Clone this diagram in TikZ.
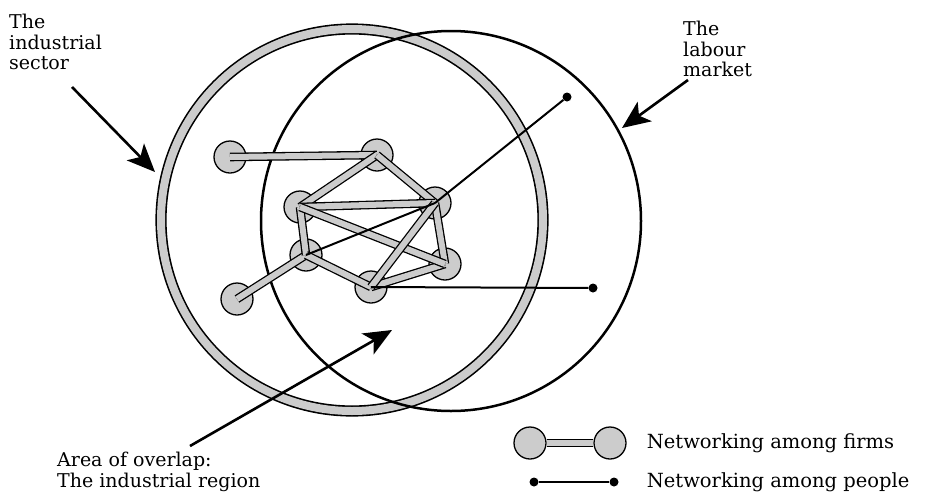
\documentclass[tikz,border=0pt]{standalone}
\usepackage{fontspec}
\setmainfont{DejaVu Serif}
\usetikzlibrary{arrows.meta,positioning}

\begin{document}
\begin{tikzpicture}[
    x=1pt, y=-1pt,
    firm/.style={draw, circle, line width=1.3pt, fill=gray!40, minimum size=32pt, inner sep=0pt},
    tie/.style={line width=1.3pt, double=gray!40, double distance=6pt},
    link/.style={line width=2pt},
    dot/.style={circle, fill=black, minimum size=9pt, inner sep=0pt},
    pointer/.style={-{Stealth[length=28pt, width=24pt, inset=7pt]}, line width=2.6pt},
    lbl/.style={font=\fontsize{19}{20.5}\selectfont, align=left, inner sep=0pt},
    legtext/.style={font=\fontsize{19.5}{21}\selectfont, inner sep=0pt},
  ]
    \useasboundingbox (0,0) rectangle (940,496);

    % Circles
    \draw[double=gray!40, double distance=8pt, line width=1.6pt] (352,220) circle[radius=191];
    \draw[line width=2.5pt] (451,221) circle[radius=190];

    % Firms
    \node[firm] (a) at (230,157) {};
    \node[firm] (b) at (377,155) {};
    \node[firm] (c) at (300,207) {};
    \node[firm] (d) at (435,203) {};
    \node[firm] (e) at (306,255) {};
    \node[firm] (f) at (445,264) {};
    \node[firm] (g) at (371,287) {};
    \node[firm] (h) at (237,299) {};

    % Networking among firms
    \foreach \p/\q in {a/b, h/e, b/c, c/e, e/g, g/f, f/d, b/d, c/d, c/f, d/g}
      \draw[tie] (\p.center) -- (\q.center);

    % People outside the firms
    \node[dot] (pd) at (567,97) {};
    \node[dot] (pg) at (593,288) {};

    % Networking among people
    \draw[link] (e.center) -- (d.center);
    \draw[link] (d.center) -- (pd);
    \draw[link] (g.center) -- (pg);

    % Labels
    \node[lbl, anchor=north west] (sector) at (9,14) {The\\industrial\\sector};
    \node[lbl, anchor=north west] (labour) at (683,21) {The\\labour\\market};
    \node[lbl, anchor=north west] (overlap) at (57,452) {Area of overlap:\\The industrial region};

    % Pointers
    \coordinate (sectorfrom) at (72,87);
    \coordinate (sectorto) at (155,172);
    \coordinate (labourfrom) at (688,80);
    \coordinate (labourto) at (622,128);
    \coordinate (overlapfrom) at (190,446);
    \coordinate (overlapto) at (392,330);
    \draw[pointer] (sectorfrom) -- (sectorto);
    \draw[pointer] (labourfrom) -- (labourto);
    \draw[pointer] (overlapfrom) -- (overlapto);

    % Legend
    \node[firm] (lfa) at (530,443) {};
    \node[firm] (lfb) at (610,443) {};
    \draw[tie] (lfa) -- (lfb);
    \node[legtext, anchor=west, right=20pt of lfb] (lft) {Networking among firms};
    \node[dot] (lpa) at (534,482) {};
    \node[dot] (lpb) at (614,482) {};
    \draw[link] (lpa) -- (lpb);
    \node[legtext, anchor=west] (lpt) at (lft.west |- lpb) {Networking among people};
\end{tikzpicture}
\end{document}
